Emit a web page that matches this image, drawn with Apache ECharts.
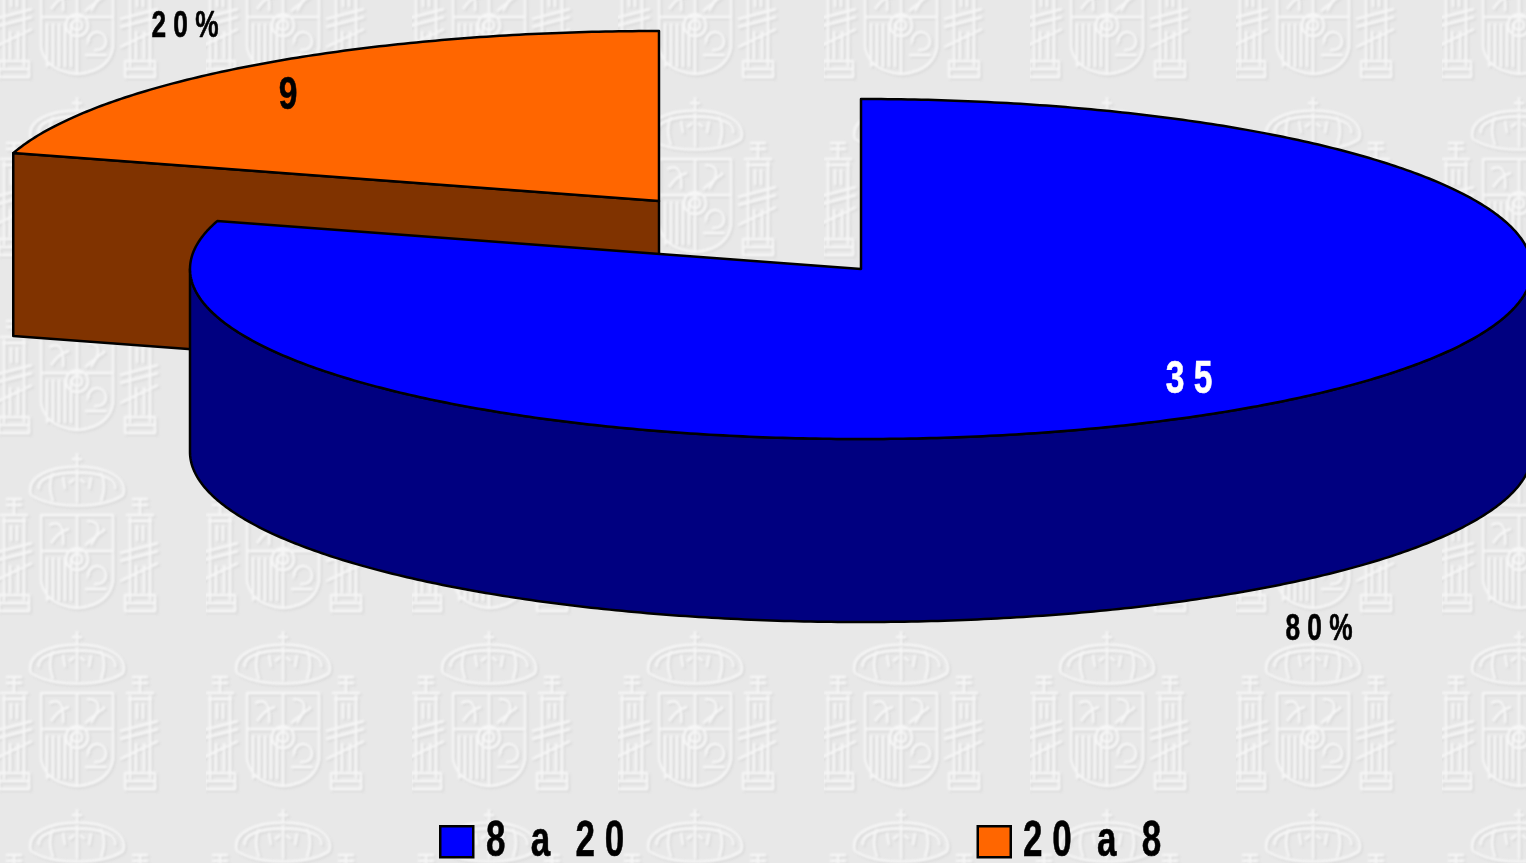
<!DOCTYPE html>
<html>
<head>
<meta charset="utf-8">
<title>8 a 20 / 20 a 8</title>
<script src="https://cdn.jsdelivr.net/npm/echarts@6/dist/echarts.min.js"></script>
<style>
    html, body { margin: 0; padding: 0; background: #e8e8e8; }
    #main { width: 1526px; height: 863px; }
</style>
</head>
<body>
<div id="main"></div>
<script>
// Chart values
const categories = ['8 a 20', '20 a 8'];
const values = [35, 9];
const valueLabels = ['3 5', '9'];
const percentLabels = ['8 0 %', '2 0 %'];
const legendLabels = ['8  \u2006a  \u20062 0', '2 0  \u2006a  \u20068'];
const topColors = ['#0000ff', '#ff6600'];
const sideColors = ['#000080', '#803300'];
const valueColors = ['#ffffff', '#000000'];

// Layout of the tilted pie, one entry per slice
const radiiX = [671, 673];
const ry = 170, depth = 183;
const centers = [[861, 269], [659, 201]];
const valueLabelPos = [[1189, 380], [288, 96]];
const percentLabelPos = [[1319, 630], [185, 27]];
const legendTextPos = [[486, 842], [1023, 842]];
const labelFont = '"Liberation Sans", Arial, sans-serif';

const total = values.reduce((a, b) => a + b, 0);

// Angles are clockwise from 12 o'clock
function sliceAngles(index){
    let start = 0;
    for (let i = 0; i < index; i++){
        start += values[i] / total * Math.PI * 2;
    }
    return [start, start + values[index] / total * Math.PI * 2];
}

function rimPoint(i, angle, drop){
    const c = centers[i];
    return [c[0] + radiiX[i] * Math.sin(angle), c[1] - ry * Math.cos(angle) + drop];
}

function rimArc(i, from, to, drop){
    const pts = [];
    const steps = Math.max(2, Math.ceil(Math.abs(to - from) / 0.01));
    for (let k = 0; k <= steps; k++){
        pts.push(rimPoint(i, from + (to - from) * k / steps, drop));
    }
    return pts;
}

function edgeStyle(fill){
    return { fill: fill, stroke: '#000', lineWidth: 2.5, lineJoin: 'round' };
}

// The original type is squeezed sideways, so every label gets its own scaleX
function labelEl(text, pos, size, scaleX, color, align){
    return {
        type: 'text',
        x: pos[0],
        y: pos[1],
        scaleX: scaleX,
        style: {
            text: text,
            x: 0,
            y: 0,
            align: align || 'center',
            verticalAlign: 'middle',
            fill: color,
            stroke: color,
            lineWidth: 0.6,
            font: 'bold ' + size + 'px ' + labelFont
        }
    };
}

function renderSlice(params, api){
    const i = params.seriesIndex;
    const c = centers[i];
    const ang = sliceAngles(i);
    const top = rimArc(i, ang[0], ang[1], 0);
    top.push(c);
    const children = [];

    // Visible side faces
    if (i === 0){
        // Outer wall facing the viewer: right-most to left-most point of the rim
        const from = Math.max(ang[0], Math.PI / 2);
        const to = Math.min(ang[1], Math.PI * 1.5);
        const upper = rimArc(i, from, to, 0);
        const lower = rimArc(i, to, from, depth);
        children.push({ type: 'polygon', shape: { points: upper.concat(lower) }, style: edgeStyle(sideColors[i]) });
    } else {
        // Cut face from the rim to the centre
        const p = rimPoint(i, ang[0], 0);
        children.push({
            type: 'polygon',
            shape: { points: [p, c, [c[0], c[1] + depth], [p[0], p[1] + depth]] },
            style: edgeStyle(sideColors[i])
        });
    }
    children.push({ type: 'polygon', shape: { points: top }, style: edgeStyle(topColors[i]) });
    children.push(labelEl(valueLabels[i], valueLabelPos[i], 46, 0.73, valueColors[i]));
    children.push(labelEl(percentLabels[i], percentLabelPos[i], 37, 0.71, '#000'));
    children.push(labelEl(legendLabels[i], legendTextPos[i], 50, 0.7, '#000', 'left'));
    return { type: 'group', children: children };
}

// Embossed coat of arms used as the page watermark
function emblemPath(ctx){
    ctx.lineWidth = 2.4;
    // cross and crown
    ctx.beginPath();
    ctx.moveTo(0, 0); ctx.lineTo(0, 14);
    ctx.moveTo(-5, 6); ctx.lineTo(5, 6);
    ctx.moveTo(-46, 42);
    ctx.bezierCurveTo(-58, 4, 58, 4, 46, 42);
    ctx.moveTo(-46, 42);
    ctx.bezierCurveTo(-25, 56, 25, 56, 46, 42);
    ctx.moveTo(-38, 36);
    ctx.bezierCurveTo(-44, 14, 44, 14, 38, 36);
    ctx.moveTo(-24, 20); ctx.quadraticCurveTo(-30, 32, -24, 48);
    ctx.moveTo(24, 20); ctx.quadraticCurveTo(30, 32, 24, 48);
    ctx.moveTo(0, 16); ctx.lineTo(0, 50);
    ctx.moveTo(-14, 24); ctx.lineTo(-12, 36);
    ctx.moveTo(14, 24); ctx.lineTo(12, 36);
    ctx.moveTo(-8, 30); ctx.lineTo(-3, 26);
    ctx.moveTo(8, 30); ctx.lineTo(3, 26);
    // shield
    ctx.moveTo(-36, 62); ctx.lineTo(36, 62); ctx.lineTo(36, 128);
    ctx.quadraticCurveTo(32, 152, 0, 155);
    ctx.quadraticCurveTo(-32, 152, -36, 128);
    ctx.closePath();
    ctx.moveTo(-36, 98); ctx.lineTo(36, 98);
    ctx.moveTo(0, 62); ctx.lineTo(0, 155);
    ctx.moveTo(11, 106); ctx.arc(0, 106, 11, 0, Math.PI * 2);
    ctx.moveTo(5, 106); ctx.arc(0, 106, 5, 0, Math.PI * 2);
    for (let x = -30; x < 0; x += 6){
        ctx.moveTo(x, 104); ctx.lineTo(x, 148);
    }
    ctx.moveTo(-28, 72); ctx.quadraticCurveTo(-12, 64, -14, 92);
    ctx.moveTo(-26, 90); ctx.quadraticCurveTo(-18, 78, -8, 76);
    ctx.moveTo(10, 68); ctx.quadraticCurveTo(30, 68, 14, 92);
    ctx.moveTo(8, 92); ctx.lineTo(28, 76);
    ctx.moveTo(12, 120); ctx.arc(20, 122, 9, Math.PI, Math.PI * 2.6);
    ctx.moveTo(8, 136); ctx.lineTo(30, 136);
    // columns either side
    [-1, 1].forEach(s => {
        const x = s * 63;
        ctx.moveTo(x - 10, 64); ctx.lineTo(x - 10, 148);
        ctx.moveTo(x + 10, 64); ctx.lineTo(x + 10, 148);
        ctx.moveTo(x - 14, 62); ctx.lineTo(x + 14, 62);
        ctx.moveTo(x - 12, 68); ctx.lineTo(x + 12, 68);
        ctx.moveTo(x, 46); ctx.lineTo(x, 62);
        ctx.moveTo(x - 8, 52); ctx.lineTo(x + 8, 52);
        ctx.moveTo(x - 8, 46); ctx.lineTo(x + 8, 46);
        ctx.moveTo(x - 3, 72); ctx.lineTo(x - 3, 88);
        ctx.moveTo(x + 3, 72); ctx.lineTo(x + 3, 88);
        ctx.rect(x - 15, 142, 30, 16);
        ctx.moveTo(x - 14, 150); ctx.lineTo(x + 14, 150);
        ctx.moveTo(x - 20, 100); ctx.lineTo(x + 18, 90);
        ctx.moveTo(x - 20, 108); ctx.lineTo(x + 18, 98);
        ctx.moveTo(x - 20, 128); ctx.lineTo(x + 18, 110);
        ctx.moveTo(x - 4, 112); ctx.lineTo(x - 4, 140);
        ctx.moveTo(x + 4, 112); ctx.lineTo(x + 4, 140);
    });
    ctx.stroke();
}

function makeTile(){
    const tw = 206, th = 178;
    const cv = document.createElement('canvas');
    cv.width = tw;
    cv.height = th;
    const ctx = cv.getContext('2d');
    ctx.fillStyle = '#e8e8e8';
    ctx.fillRect(0, 0, tw, th);
    ctx.filter = 'blur(1.1px)';
    // second copy wraps the bottom of the emblem round the tile edge
    [98, 98 - th].forEach(y0 => {
        ctx.save();
        ctx.translate(78, y0);
        ctx.translate(1, 1);
        ctx.strokeStyle = 'rgba(212,212,212,0.6)';
        emblemPath(ctx);
        ctx.translate(-2, -2);
        ctx.strokeStyle = 'rgba(248,248,248,0.95)';
        emblemPath(ctx);
        ctx.restore();
    });
    return cv;
}

const seriesList = categories.map((name, i) => ({
    type: 'custom',
    name: name,
    coordinateSystem: 'none',
    silent: true,
    clip: false,
    z: 2 + (categories.length - i),
    itemStyle: { color: topColors[i] },
    renderItem: renderSlice,
    data: [values[i]]
}));

const myChart = echarts.init(document.getElementById('main'));
const option = {
    animation: false,
    backgroundColor: { image: makeTile(), repeat: 'repeat' },
    legend: {
        left: 439,
        top: 825,
        padding: 0,
        itemWidth: 33,
        itemHeight: 31,
        itemGap: 502,
        selectedMode: false,
        icon: 'rect',
        itemStyle: { borderColor: '#000', borderWidth: 2.5 },
        data: categories,
        // names are drawn squeezed next to the swatches in renderSlice
        formatter: () => ''
    },
    series: seriesList
};
myChart.setOption(option);
</script>
</body>
</html>
